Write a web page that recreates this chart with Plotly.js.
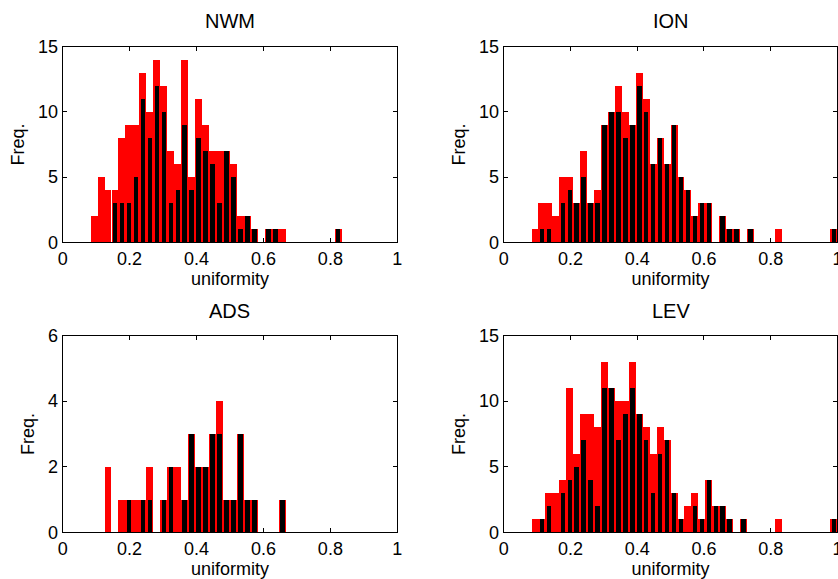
<!DOCTYPE html>
<html>
<head>
<meta charset="utf-8">
<script src="https://cdn.plot.ly/plotly-3.0.1.min.js"></script>
<style>html,body{margin:0;padding:0;background:#fff;}#chart{width:838px;height:579px;}</style>
</head>
<body>
<div id="chart"></div>
<script>
// Bin centres (48 bins of width 1/48 on [0,1])
const binCenters = [0.0104,0.0313,0.0521,0.0729,0.0938,0.1146,0.1354,0.1563,0.1771,0.1979,0.2188,0.2396,
  0.2604,0.2813,0.3021,0.3229,0.3438,0.3646,0.3854,0.4063,0.4271,0.4479,0.4688,0.4896,
  0.5104,0.5313,0.5521,0.5729,0.5938,0.6146,0.6354,0.6563,0.6771,0.6979,0.7188,0.7396,
  0.7604,0.7813,0.8021,0.8229,0.8438,0.8646,0.8854,0.9063,0.9271,0.9479,0.9688,0.9896];
const binWidth = 0.020833;

const panelTitles = ["NWM", "ION", "ADS", "LEV"];
const xTickVals = [0, 0.2, 0.4, 0.6, 0.8, 1];
const xTickText = ["0", "0.2", "0.4", "0.6", "0.8", "1"];
const yTicksTop = [0, 5, 10, 15];
const yTicksADS = [0, 2, 4, 6];

//                0 1 2 3 4 5 6 7 8 9 10 11 12 13 14 15 16 17 18 19 20 21 22 23 24 25 26 27 28 29 30 31 32 33 34 35 36 37 38 39 40 41 42 43 44 45 46 47
const nwmRed   = [0,0,0,0,2,5,4,4,8,9, 9,13,10,14,12, 7, 6,14, 5,11, 9, 7, 7, 7, 6, 2, 2, 1, 0, 1, 1, 1, 0, 0, 0, 0, 0, 0, 0, 1, 0, 0, 0, 0, 0, 0, 0, 0];
const nwmBlack = [0,0,0,0,0,0,0,3,3,3, 5,11, 8,12,10, 3, 4, 9, 4, 8, 7, 6, 3, 7, 5, 1, 2, 1, 0, 1, 1, 0, 0, 0, 0, 0, 0, 0, 0, 1, 0, 0, 0, 0, 0, 0, 0, 0];
const ionRed   = [0,0,0,0,1,3,3,2,5,5, 3, 7, 3, 4, 9,10,12,10, 9,13,11, 6, 8, 6, 9, 5, 4, 2, 3, 3, 0, 2, 1, 1, 0, 1, 0, 0, 0, 1, 0, 0, 0, 0, 0, 0, 0, 1];
const ionBlack = [0,0,0,0,0,1,1,0,3,4, 3, 5, 3, 3, 9,10,10, 8, 9,12,10, 6, 8, 6, 9, 5, 4, 2, 3, 3, 0, 2, 1, 1, 0, 1, 0, 0, 0, 0, 0, 0, 0, 0, 0, 0, 0, 1];
const adsRed   = [0,0,0,0,0,0,2,0,1,1, 1, 1, 2, 0, 1, 2, 2, 1, 3, 2, 2, 3, 4, 1, 1, 3, 1, 1, 0, 0, 0, 1, 0, 0, 0, 0, 0, 0, 0, 0, 0, 0, 0, 0, 0, 0, 0, 0];
const adsBlack = [0,0,0,0,0,0,0,0,0,1, 0, 1, 1, 0, 1, 2, 0, 1, 3, 2, 2, 3, 3, 1, 1, 3, 1, 1, 0, 0, 0, 1, 0, 0, 0, 0, 0, 0, 0, 0, 0, 0, 0, 0, 0, 0, 0, 0];
const levRed   = [0,0,0,0,1,1,3,3,4,11,6, 9, 9, 8,13,11,10,10,13, 9, 8, 6, 8, 7, 3, 1, 2, 3, 1, 4, 2, 2, 1, 0, 1, 0, 0, 0, 0, 1, 0, 0, 0, 0, 0, 0, 0, 1];
const levBlack = [0,0,0,0,0,1,2,0,3,4, 5, 7, 4, 2,11,11, 7, 9,11, 9, 7, 3, 6, 7, 3, 1, 0, 2, 1, 4, 2, 2, 1, 0, 1, 0, 0, 0, 0, 0, 0, 0, 0, 0, 0, 0, 0, 1];

const series = [[nwmRed, nwmBlack], [ionRed, ionBlack], [adsRed, adsBlack], [levRed, levBlack]];
const axisIds = [["x","y"],["x2","y2"],["x3","y3"],["x4","y4"]];

const traces = [];
series.forEach((s, i) => {
  traces.push({type:"bar", x:binCenters, y:s[0], width:binWidth, xaxis:axisIds[i][0], yaxis:axisIds[i][1],
    marker:{color:"#ff0000", line:{width:0}}, hoverinfo:"x+y", showlegend:false});
  traces.push({type:"bar", x:binCenters, y:s[1], width:binWidth*0.64, xaxis:axisIds[i][0], yaxis:axisIds[i][1],
    marker:{color:"#000000", line:{width:0}}, hoverinfo:"x+y", showlegend:false});
});

const W = 838, H = 579;
const leftDom = [62.7/W, 397.3/W], rightDom = [503.7/W, 837.4/W];
const topDom = [(H-242.3)/H, (H-46.8)/H], botDom = [(H-532.3)/H, (H-335.5)/H];
const font = {family:"Liberation Sans, Arial, sans-serif", color:"#000"};

function xax(dom, anchor){
  return {domain:dom, anchor:anchor, range:[0,1], tickvals:xTickVals, ticktext:xTickText,
    ticks:"inside", ticklen:4, tickcolor:"#000", showline:true, linecolor:"#000", linewidth:1, mirror:"ticks",
    showgrid:false, zeroline:false, tickfont:{...font, size:18}, ticklabeloverflow:"allow",
    title:{text:"uniformity", font:{...font, size:18}, standoff:1}, automargin:false, fixedrange:true};
}
function yax(dom, anchor, tv, maxv){
  return {domain:dom, anchor:anchor, range:[0,maxv], tickvals:tv, ticktext:tv.map(String),
    ticks:"inside", ticklen:4, tickcolor:"#000", showline:true, linecolor:"#000", linewidth:1, mirror:"ticks",
    showgrid:false, zeroline:false, tickfont:{...font, size:18},
    title:{text:"Freq.", font:{...font, size:18}, standoff:8}, automargin:false, fixedrange:true};
}

const layout = {
  width:W, height:H, margin:{l:0,r:0,t:0,b:0}, paper_bgcolor:"#fff", plot_bgcolor:"#fff",
  barmode:"overlay", bargap:0, showlegend:false, font:font,
  xaxis:xax(leftDom,"y"), yaxis:yax(topDom,"x",yTicksTop,15),
  xaxis2:xax(rightDom,"y2"), yaxis2:yax(topDom,"x2",yTicksTop,15),
  xaxis3:xax(leftDom,"y3"), yaxis3:yax(botDom,"x3",yTicksADS,6),
  xaxis4:xax(rightDom,"y4"), yaxis4:yax(botDom,"x4",yTicksTop,15),
  annotations:[
    {text:panelTitles[0], x:(leftDom[0]+leftDom[1])/2, y:(H-21)/H},
    {text:panelTitles[1], x:(rightDom[0]+rightDom[1])/2, y:(H-21)/H},
    {text:panelTitles[2], x:(leftDom[0]+leftDom[1])/2, y:(H-311)/H},
    {text:panelTitles[3], x:(rightDom[0]+rightDom[1])/2, y:(H-311)/H}
  ].map(a => Object.assign(a, {xref:"paper", yref:"paper", showarrow:false, xanchor:"center", yanchor:"middle",
    font:{...font, size:20}}))
};

Plotly.newPlot("chart", traces, layout, {staticPlot:true, displayModeBar:false});
</script>
</body>
</html>
